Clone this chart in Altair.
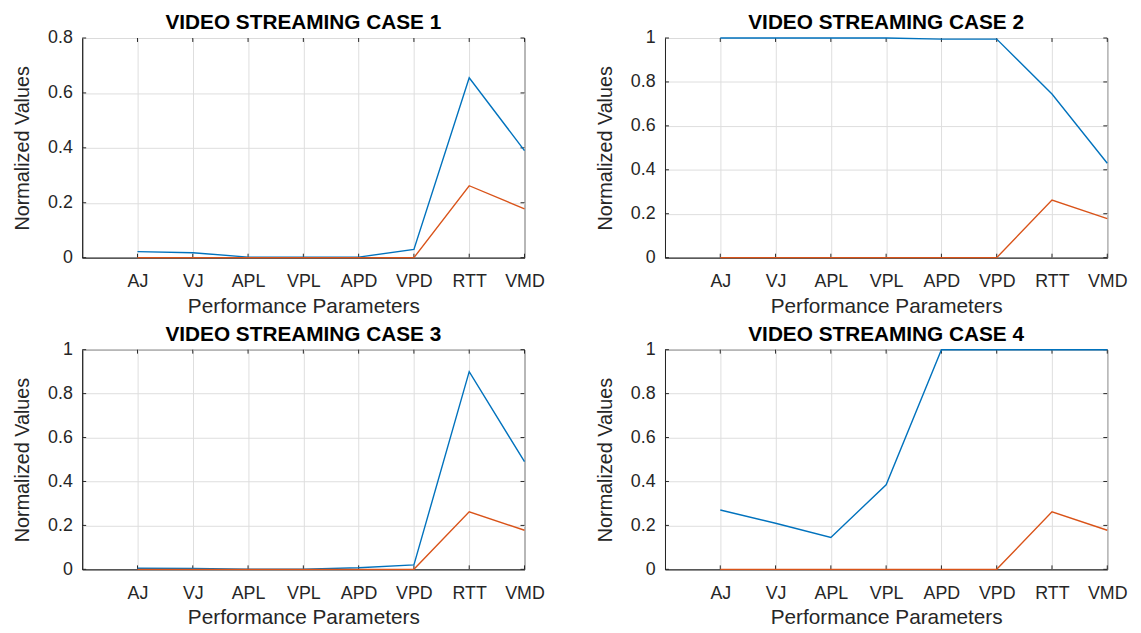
import altair as alt
import pandas as pd

params = ["AJ", "VJ", "APL", "VPL", "APD", "VPD", "RTT", "VMD"]
titles = ["VIDEO STREAMING CASE 1", "VIDEO STREAMING CASE 2",
          "VIDEO STREAMING CASE 3", "VIDEO STREAMING CASE 4"]
series_names = ["Series 1", "Series 2"]

case1_s1 = [0.022, 0.018, 0.002, 0.002, 0.002, 0.030, 0.655, 0.390]
case1_s2 = [0.000, 0.000, 0.000, 0.000, 0.000, 0.000, 0.262, 0.178]
case2_s1 = [1.000, 1.000, 1.000, 1.000, 0.995, 0.995, 0.745, 0.430]
case2_s2 = [0.000, 0.000, 0.000, 0.000, 0.000, 0.000, 0.262, 0.178]
case3_s1 = [0.005, 0.004, 0.001, 0.001, 0.007, 0.020, 0.900, 0.490]
case3_s2 = [0.000, 0.000, 0.000, 0.000, 0.000, 0.000, 0.262, 0.178]
case4_s1 = [0.270, 0.210, 0.145, 0.385, 1.000, 1.000, 1.000, 1.000]
case4_s2 = [0.000, 0.000, 0.000, 0.000, 0.000, 0.000, 0.262, 0.178]

y_max = [0.8, 1.0, 1.0, 1.0]
y_ticks_08 = [0, 0.2, 0.4, 0.6, 0.8]
y_ticks_1 = [0, 0.2, 0.4, 0.6, 0.8, 1.0]

cases = [(case1_s1, case1_s2), (case2_s1, case2_s2),
         (case3_s1, case3_s2), (case4_s1, case4_s2)]

label_expr = "[" + ", ".join(["''"] + ["'%s'" % p for p in params]) + "][datum.value]"

FONT = "Liberation Sans"
W, H = 447, 222
TICK = 4
AXC = "#262626"
x_positions = list(range(1, len(params) + 1))

panels = []
for i, (s1, s2) in enumerate(cases):
    rows = []
    for sname, vals in zip(series_names, (s1, s2)):
        for k, (p, v) in enumerate(zip(params, vals)):
            rows.append({"idx": k + 1, "param": p, "series": sname, "value": v})
    df = pd.DataFrame(rows)
    yt = y_ticks_08 if y_max[i] < 1 else y_ticks_1
    xscale = alt.Scale(domain=[0, len(params)], nice=False, zero=False)
    yscale = alt.Scale(domain=[0, y_max[i]], nice=False)

    x_enc = alt.X("idx:Q", scale=xscale,
                  axis=alt.Axis(values=x_positions,
                                labelExpr=label_expr,
                                labelFlush=False, labelOverlap=False,
                                title="Performance Parameters",
                                labelPadding=15, titlePadding=5))
    y_enc = alt.Y("value:Q", scale=yscale,
                  axis=alt.Axis(values=yt, format="~g",
                                labelFlush=False, labelOverlap=False,
                                title="Normalized Values",
                                labelPadding=10, titlePadding=15))

    xt_df = pd.DataFrame({"idx": x_positions})
    yt_df = pd.DataFrame({"value": yt})
    xt_bottom = alt.Chart(xt_df).mark_rule(color=AXC, strokeWidth=1).encode(
        x=x_enc, y=alt.value(H), y2=alt.value(H - TICK))
    xt_top = alt.Chart(xt_df).mark_rule(color=AXC, strokeWidth=1).encode(
        x=x_enc, y=alt.value(0), y2=alt.value(TICK))
    yt_left = alt.Chart(yt_df).mark_rule(color=AXC, strokeWidth=1).encode(
        y=y_enc, x=alt.value(0), x2=alt.value(TICK))
    yt_right = alt.Chart(yt_df).mark_rule(color=AXC, strokeWidth=1).encode(
        y=y_enc, x=alt.value(W), x2=alt.value(W - TICK))

    line = alt.Chart(df).mark_line(strokeWidth=1.4).encode(
        x=x_enc, y=y_enc,
        color=alt.Color("series:N",
                        scale=alt.Scale(domain=series_names,
                                        range=["#0072BD", "#D95319"]),
                        legend=None),
        order="idx:Q",
    )

    ch = alt.layer(xt_bottom, xt_top, yt_left, yt_right, line).properties(
        width=W, height=H,
        title=alt.TitleParams(titles[i], fontSize=21, fontWeight="bold",
                              font=FONT, color="#000000", offset=-4),
    )
    panels.append(ch)

chart = alt.ConcatChart(
    concat=panels, columns=2, bounds="flush",
    spacing=alt.RowColnumber(row=93, column=142),
).properties(
    padding={"left": 4, "top": 0, "right": 5, "bottom": 0},
).configure_view(
    stroke=AXC, strokeWidth=1,
).configure_axis(
    domainColor=AXC, domainWidth=1,
    ticks=False,
    grid=True, gridColor="#dedede", gridWidth=1,
    labelFont=FONT, labelFontSize=18, labelColor=AXC,
    titleFont=FONT, titleFontSize=20, titleColor=AXC,
    titleFontWeight="normal",
).configure_axisX(
    titleFontSize=21, labelAngle=0,
)

chart.save("out.html", embed_options={"renderer": "svg", "actions": False})
